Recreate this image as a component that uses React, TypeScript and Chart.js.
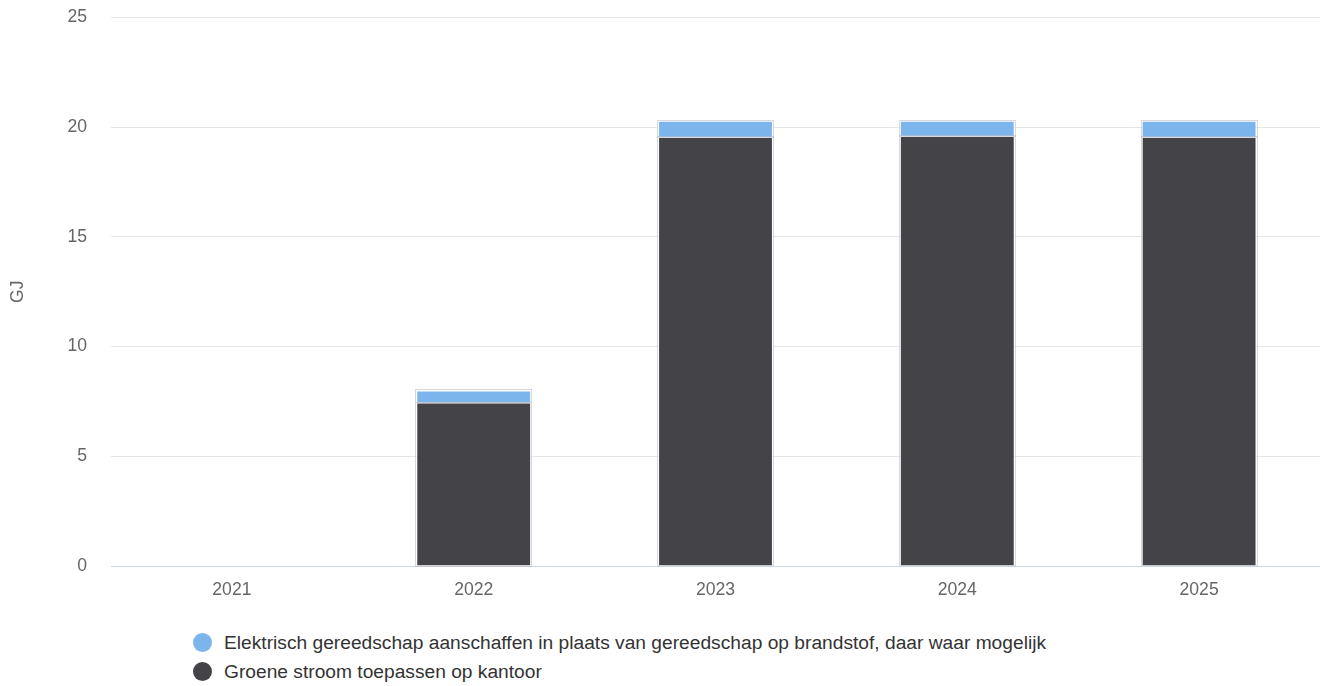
import React, { useEffect, useRef } from "react";
import { Chart, registerables } from "chart.js";

Chart.register(...registerables);

const categories = ["2021", "2022", "2023", "2024", "2025"];
const elektrischValues = [0, 0.55, 0.75, 0.7, 0.75];
const groeneStroomValues = [0, 7.45, 19.55, 19.6, 19.55];
const yTicks = [0, 5, 10, 15, 20, 25];

const seriesNames = [
  "Elektrisch gereedschap aanschaffen in plaats van gereedschap op brandstof, daar waar mogelijk",
  "Groene stroom toepassen op kantoor",
];
const seriesColors = ["#7cb5ec", "#434348"];

const FONT = "'Liberation Sans', Arial, Helvetica, sans-serif";

const outlinePlugin = {
  id: "barOutline",
  afterDatasetsDraw(chart: any) {
    const ctx = chart.ctx;
    ctx.save();
    ctx.strokeStyle = "rgba(190,190,205,0.6)";
    ctx.lineWidth = 1;
    chart.data.datasets.forEach((_: any, di: number) => {
      const meta = chart.getDatasetMeta(di);
      meta.data.forEach((el: any) => {
        const p = el.getProps(["x", "y", "base", "width"], true);
        const top = Math.min(p.y, p.base);
        const h = Math.abs(p.base - p.y);
        if (h < 0.5) return;
        const left = p.x - p.width / 2;
        ctx.strokeRect(Math.round(left) - 0.5, Math.round(top) - 0.5, Math.round(p.width) + 1, Math.round(h) + 1);
      });
    });
    ctx.restore();
  },
};

export default function App() {
  const ref = useRef<HTMLCanvasElement | null>(null);

  useEffect(() => {
    document.body.style.margin = "0";
    if (!ref.current) return;
    const chart = new Chart(ref.current, {
      type: "bar",
      data: {
        labels: categories,
        datasets: [
          {
            label: seriesNames[0],
            data: elektrischValues,
            backgroundColor: seriesColors[0],
            borderColor: "#ffffff",
            borderWidth: 1,
            order: 2,
          },
          {
            label: seriesNames[1],
            data: groeneStroomValues,
            backgroundColor: seriesColors[1],
            borderColor: "#ffffff",
            borderWidth: 1,
            order: 1,
          },
        ],
      },
      options: {
        animation: false,
        responsive: false,
        maintainAspectRatio: false,
        datasets: { bar: { categoryPercentage: 1, barPercentage: 0.475 } },
        layout: { padding: { top: 0, left: 0, right: 0, bottom: 0 } },
        plugins: {
          legend: { display: false },
          tooltip: { enabled: false },
        },
        scales: {
          x: {
            stacked: true,
            grid: { display: false, drawTicks: false },
            border: { display: true, color: "#ccd6eb", width: 1 },
            ticks: {
              color: "#666666",
              font: { family: FONT, size: 17.6 },
              padding: 14,
              maxRotation: 0,
            },
            afterFit: (s: any) => {
              s.height = 54;
            },
          },
          y: {
            stacked: true,
            min: 0,
            max: 25,
            afterBuildTicks: (s: any) => {
              s.ticks = yTicks.map((v) => ({ value: v }));
            },
            grid: { color: "#e6e6e6", drawTicks: false, lineWidth: 1 },
            border: { display: false },
            ticks: {
              color: "#666666",
              font: { family: FONT, size: 17.6 },
              padding: 24,
            },
            title: {
              display: true,
              text: "GJ",
              color: "#666666",
              font: { family: FONT, size: 17.6, weight: "normal" },
              padding: { top: 8, bottom: 0 },
            },
            afterFit: (s: any) => {
              s.width = 111;
            },
          },
        },
      },
      plugins: [outlinePlugin],
    });
    return () => chart.destroy();
  }, []);

  return (
    <div style={{ position: "absolute", left: 0, top: 0, width: 1320, height: 686, background: "#fff", fontFamily: FONT, overflow: "hidden" }}>
      <canvas
        ref={ref}
        width={1320}
        height={637}
        style={{ display: "block", position: "absolute", left: 0, top: -17, width: 1320, height: 637 }}
      />
      <div style={{ position: "absolute", left: 193, top: 628, display: "flex", flexDirection: "column" }}>
        {seriesNames.map((n, i) => (
          <div key={n} style={{ display: "flex", alignItems: "center", height: 29 }}>
            <span
              style={{
                display: "inline-block",
                width: 19,
                height: 19,
                borderRadius: "50%",
                background: seriesColors[i],
                marginRight: 12,
              }}
            />
            <span style={{ color: "#333333", fontSize: 19.2, whiteSpace: "nowrap" }}>{n}</span>
          </div>
        ))}
      </div>
    </div>
  );
}
